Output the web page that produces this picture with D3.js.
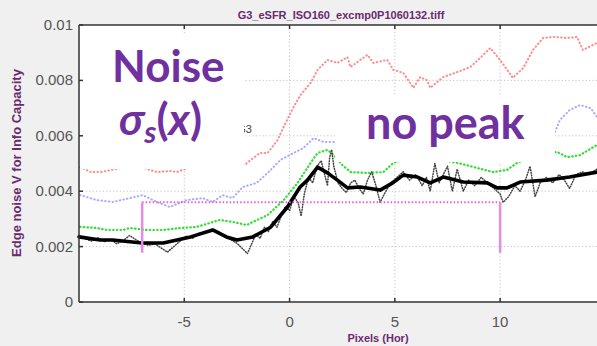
<!DOCTYPE html>
<html>
<head>
<meta charset="utf-8">
<script src="https://cdn.jsdelivr.net/npm/d3@7"></script>
<style>
  body { margin: 0; background: #f0f0f0; }
  svg { display: block; }
</style>
</head>
<body>
<div id="chart"></div>
<script>
// values: [pixels, edge noise]
var xTicks = [-5, 0, 5, 10];
var yTicks = [0, 0.002, 0.004, 0.006, 0.008, 0.01];
var yTickLabels = ["0", "0.002", "0.004", "0.006", "0.008", "0.01"];

var redPts = [[-9.95,0.00487],[-9.43,0.00469],[-8.96,0.00469],[-8.0,0.00484],[-7.06,0.00487],[-6.3,0.00469],
  [-5.64,0.00473],[-5.36,0.00469],[-4.7,0.00487],[-3.74,0.00487],[-2.8,0.00484],[-2.13,0.00495],[-1.42,0.00538],
  [-1.04,0.00538],[-0.57,0.00585],[-0.28,0.00632],[0.19,0.00704],[0.52,0.00747],[1.0,0.00791],[1.33,0.00838],
  [1.8,0.00874],[2.27,0.00863],[2.75,0.00884],[2.89,0.00848],[3.36,0.00874],[3.7,0.00892],[3.98,0.00863],
  [4.64,0.00874],[4.93,0.00838],[5.4,0.00827],[5.88,0.00773],[6.2,0.00812],[6.54,0.008],[6.68,0.00773],
  [7.3,0.00812],[7.96,0.0083],[8.58,0.00848],[9.05,0.00881],[9.53,0.00917],[10.0,0.00874],[10.6,0.00809],
  [11.1,0.00845],[11.56,0.0091],[12.04,0.00953],[12.5,0.00957],[13.18,0.00953],[13.65,0.00957],[13.93,0.0091],
  [14.6,0.00935]];

var bluePts = [[-9.95,0.00386],[-9.15,0.00368],[-8.39,0.00361],[-7.58,0.00375],[-6.97,0.00386],[-6.3,0.00361],
  [-5.69,0.00343],[-4.88,0.00368],[-4.12,0.00375],[-3.65,0.00361],[-3.18,0.00386],[-2.7,0.00375],[-2.23,0.00415],
  [-1.56,0.0043],[-1.04,0.00466],[-0.43,0.00513],[0.19,0.00538],[0.66,0.00556],[1.14,0.00592],[1.61,0.00578],
  [2.09,0.00578],[4.3,0.0058],[7.6,0.0059],[11.4,0.006],[12.6,0.00614],[12.84,0.00657],[13.3,0.00693],
  [13.8,0.00711],[14.3,0.007],[14.6,0.00668]];

var greenPts = [[-9.95,0.00271],[-9.15,0.00267],[-8.67,0.0026],[-7.91,0.0026],[-7.58,0.00267],[-6.78,0.0026],
  [-6.02,0.0026],[-5.21,0.00267],[-4.41,0.00271],[-3.32,0.00296],[-2.7,0.00289],[-2.04,0.00278],[-1.85,0.00285],
  [-1.04,0.00314],[-0.28,0.00368],[0.38,0.0043],[1.0,0.00502],[1.33,0.00538],[1.8,0.00549],[2.09,0.00531],
  [2.5,0.00495],[2.9,0.00469],[3.7,0.00466],[4.45,0.00469],[4.93,0.00502],[5.7,0.0052],[6.7,0.0052],
  [8.0,0.00502],[8.9,0.00484],[9.67,0.00469],[10.33,0.00477],[10.8,0.00502],[11.66,0.0053],[12.7,0.00542],
  [13.18,0.00523],[13.79,0.0053],[14.6,0.00567]];

var rawPts = [[-10,0.0024],[-9.7,0.00228],[-9.4,0.0022],[-9.1,0.00232],[-8.8,0.00218],[-8.5,0.00226],[-8.2,0.0021],
  [-7.9,0.00222],[-7.6,0.0024],[-7.3,0.00225],[-7.0,0.00212],[-6.7,0.00205],[-6.4,0.0021],[-6.1,0.00195],
  [-5.8,0.0018],[-5.5,0.002],[-5.2,0.0022],[-4.9,0.00238],[-4.6,0.0023],[-4.3,0.00248],[-4.0,0.0025],
  [-3.7,0.00262],[-3.4,0.00255],[-3.1,0.0024],[-2.8,0.00225],[-2.5,0.00212],[-2.2,0.0019],[-2.0,0.00175],
  [-1.8,0.0021],[-1.6,0.00245],[-1.4,0.0023],[-1.2,0.0027],[-1.0,0.00255],[-0.8,0.0029],[-0.6,0.0027],
  [-0.4,0.0031],[-0.2,0.00345],[0,0.0033],[0.2,0.0038],[0.4,0.0036],[0.55,0.0031],[0.7,0.0039],[0.9,0.0045],
  [1.1,0.0043],[1.3,0.0049],[1.5,0.0051],[1.7,0.0045],[1.8,0.0042],[1.9,0.0052],[2.0,0.0055],[2.1,0.0049],
  [2.3,0.0043],[2.5,0.0041],[2.7,0.00395],[2.9,0.0043],[3.1,0.0044],[3.3,0.0041],[3.5,0.0039],[3.7,0.0044],
  [3.9,0.0047],[4.1,0.0042],[4.3,0.0036],[4.5,0.0039],[4.8,0.0043],[5.1,0.0045],[5.4,0.0047],[5.7,0.0044],
  [6.0,0.0046],[6.3,0.0042],[6.5,0.0045],[6.68,0.004],[6.9,0.005],[7.1,0.0043],[7.3,0.0046],[7.5,0.0049],
  [7.73,0.004],[7.96,0.0048],[8.25,0.004],[8.5,0.0044],[8.8,0.0042],[9.1,0.0045],[9.4,0.0043],[9.7,0.0041],
  [10.0,0.0039],[10.14,0.0036],[10.4,0.0038],[10.7,0.0042],[10.95,0.004],[11.2,0.0044],[11.42,0.0049],
  [11.66,0.0038],[11.9,0.0043],[12.2,0.0045],[12.5,0.0043],[12.8,0.0046],[13.05,0.0044],[13.3,0.0041],
  [13.6,0.0046],[13.9,0.0047],[14.2,0.0046],[14.6,0.0048]];

var smoothPts = [[-10,0.00235],[-9,0.00224],[-8.4,0.00224],[-7,0.00213],[-6,0.00213],[-4.7,0.00235],[-3.65,0.0026],
  [-3,0.00235],[-2.5,0.00224],[-1.75,0.00235],[-0.9,0.0027],[-0.1,0.00343],[0.5,0.00415],[0.85,0.0044],
  [1.33,0.00487],[1.8,0.00466],[2.27,0.0044],[2.75,0.00412],[3.36,0.00415],[4.3,0.00404],[4.9,0.0043],
  [5.4,0.00458],[6.07,0.00451],[6.68,0.0043],[7.3,0.00451],[8.25,0.00433],[9.38,0.0043],[9.86,0.00412],
  [10.33,0.00412],[10.95,0.00433],[12.2,0.0044],[13.3,0.00451],[14.6,0.00469]];

// magenta marker: [x start, x end], level, bottom of the end bars
var markX = [-7, 10];
var markLevel = 0.0036;
var markBottom = 0.00178;

var W = 597, H = 346;
var pLeft = 79, pTop = 25, pRight = 597, pBottom = 302;

var svg = d3.select("#chart").append("svg")
  .attr("width", W).attr("height", H);

svg.append("rect").attr("width", W).attr("height", H).attr("fill", "#f0f0f0");
svg.append("rect").attr("x", pLeft).attr("y", pTop)
  .attr("width", pRight - pLeft).attr("height", pBottom - pTop).attr("fill", "#fff");

var x = d3.scaleLinear().domain([-10, 14.6]).range([pLeft, pRight]);
var y = d3.scaleLinear().domain([0, 0.01]).range([pBottom, pTop]);

// grid
svg.append("g").selectAll("line").data(xTicks).join("line")
  .attr("x1", d => x(d)).attr("x2", d => x(d))
  .attr("y1", pTop).attr("y2", pBottom)
  .attr("stroke", "#c4c4c4").attr("stroke-dasharray", "1.2,2.2");
svg.append("g").selectAll("line").data(yTicks.slice(1, 5)).join("line")
  .attr("x1", pLeft).attr("x2", pRight)
  .attr("y1", d => y(d)).attr("y2", d => y(d))
  .attr("stroke", "#c4c4c4").attr("stroke-dasharray", "1.2,2.2");

var line = d3.line().x(d => x(d[0])).y(d => y(d[1]));

function drawSeries(pts, color, width, dash) {
  svg.append("path").datum(pts)
    .attr("fill", "none")
    .attr("stroke", color)
    .attr("stroke-width", width)
    .attr("stroke-dasharray", dash)
    .attr("stroke-linecap", "round")
    .attr("stroke-linejoin", "round")
    .attr("d", line);
}

drawSeries(redPts, "#ff8a8a", 2, "0.5,3.2");
drawSeries(bluePts, "#a8a8ff", 2, "0.5,3.2");
drawSeries(greenPts, "#2ee02e", 2.2, "0.5,3.2");
drawSeries(rawPts, "#444", 1.5, "0.8,1.8");
drawSeries(smoothPts, "#000", 3.6, null);

// magenta marker
svg.append("line")
  .attr("x1", x(markX[0])).attr("x2", x(markX[1]))
  .attr("y1", y(markLevel)).attr("y2", y(markLevel))
  .attr("stroke", "#e060e0").attr("stroke-width", 2)
  .attr("stroke-dasharray", "1.5,2");
svg.append("g").selectAll("line").data(markX).join("line")
  .attr("x1", d => x(d)).attr("x2", d => x(d))
  .attr("y1", y(markLevel)).attr("y2", y(markBottom))
  .attr("stroke", "#e58ae5").attr("stroke-width", 2.5);

// legend remnant, then white text boxes over it
svg.append("text").attr("x", 252).attr("y", 133)
  .attr("text-anchor", "end")
  .style("font", "11px 'Liberation Sans', Arial, sans-serif")
  .attr("fill", "#444").text("G3");

svg.append("rect").attr("x", pLeft + 1).attr("y", 34)
  .attr("width", 244 - pLeft - 1).attr("height", 135).attr("fill", "#fff");
svg.append("rect").attr("x", 335).attr("y", 95)
  .attr("width", 220).attr("height", 67).attr("fill", "#fff");

// axes
var ax = svg.append("g").attr("stroke", "#333").attr("stroke-width", 1.5);
ax.append("line").attr("x1", pLeft).attr("x2", pLeft).attr("y1", pTop).attr("y2", pBottom);
ax.append("line").attr("x1", pLeft).attr("x2", pRight).attr("y1", pBottom).attr("y2", pBottom);
ax.append("line").attr("x1", pLeft).attr("x2", pRight).attr("y1", pTop).attr("y2", pTop);
ax.append("g").selectAll("line").data(xTicks).join("line")
  .attr("x1", d => x(d)).attr("x2", d => x(d))
  .attr("y1", pBottom).attr("y2", pBottom - 4);
ax.append("g").selectAll("line").data(xTicks).join("line")
  .attr("x1", d => x(d)).attr("x2", d => x(d))
  .attr("y1", pTop).attr("y2", pTop + 4);
ax.append("g").selectAll("line").data(yTicks).join("line")
  .attr("x1", pLeft).attr("x2", pLeft + 4)
  .attr("y1", d => y(d)).attr("y2", d => y(d));

var tickFont = "15px 'Liberation Sans', Arial, sans-serif";
svg.append("g").selectAll("text").data(yTicks).join("text")
  .attr("x", 73).attr("y", d => y(d) + 5)
  .attr("text-anchor", "end")
  .style("font", tickFont).attr("fill", "#555")
  .text((d, i) => yTickLabels[i]);
svg.append("g").selectAll("text").data(xTicks).join("text")
  .attr("x", d => x(d)).attr("y", 327)
  .attr("text-anchor", "middle")
  .style("font", tickFont).attr("fill", "#555")
  .text(d => d);

// titles
var titleFont = "bold 11px 'Liberation Sans', Arial, sans-serif";
svg.append("text").attr("x", 341).attr("y", 19)
  .attr("text-anchor", "middle").style("font", titleFont).attr("fill", "#6a2a70")
  .text("G3_eSFR_ISO160_excmp0P1060132.tiff");
svg.append("text").attr("x", 378).attr("y", 342)
  .attr("text-anchor", "middle").style("font", titleFont).attr("fill", "#6a2a70")
  .text("Pixels (Hor)");
svg.append("text")
  .attr("transform", "translate(21,163) rotate(-90)")
  .attr("text-anchor", "middle").style("font", "bold 13px 'Liberation Sans', Arial, sans-serif")
  .attr("fill", "#6a2a70")
  .text("Edge noise V for Info Capacity");

// annotations
var purple = "#7030a0";
svg.append("text").attr("x", 112).attr("y", 82)
  .style("font", "bold 44px Lato, sans-serif").attr("fill", purple)
  .text("Noise");
var sig = svg.append("text").attr("x", 119).attr("y", 135)
  .style("font", "bold 44px Lato, sans-serif").attr("fill", purple);
sig.append("tspan").style("font-style", "italic").text("σ");
sig.append("tspan").style("font-style", "italic").style("font-size", "30px")
  .attr("dy", 8).text("s");
sig.append("tspan").attr("dy", -8).text("(");
sig.append("tspan").style("font-style", "italic").text("x");
sig.append("tspan").text(")");
svg.append("text").attr("x", 366).attr("y", 139)
  .style("font", "bold 45px Lato, sans-serif").attr("fill", purple)
  .text("no peak");
</script>
</body>
</html>
